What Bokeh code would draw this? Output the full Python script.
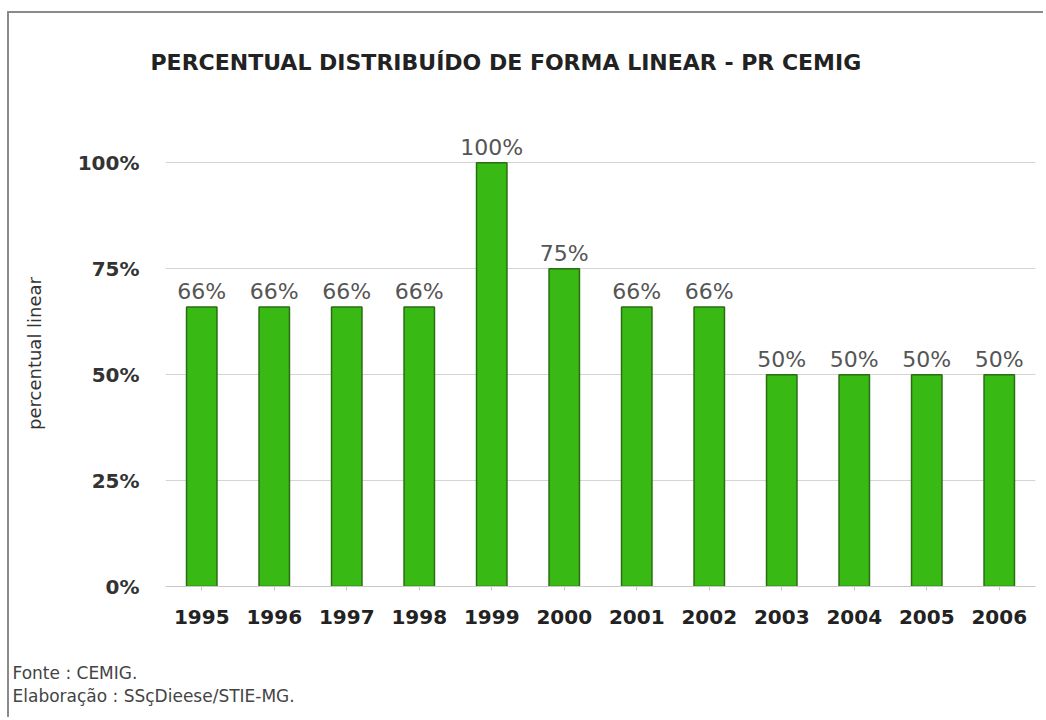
from bokeh.plotting import figure
from bokeh.models import ColumnDataSource, LabelSet, FixedTicker, PrintfTickFormatter, Title, Range1d, FactorRange
from bokeh.core.properties import value
from bokeh.embed import file_html
from bokeh.resources import INLINE

years = ["1995", "1996", "1997", "1998", "1999", "2000", "2001", "2002", "2003", "2004", "2005", "2006"]
values = [66, 66, 66, 66, 100, 75, 66, 66, 50, 50, 50, 50]
labels = [f"{v}%" for v in values]
y_ticks = [0, 25, 50, 75, 100]
title_text = "PERCENTUAL DISTRIBUÍDO DE FORMA LINEAR - PR CEMIG"
footnotes = ["Fonte : CEMIG.", "Elaboração : SSçDieese/STIE-MG."]

FONT = "DejaVu Sans"

src = ColumnDataSource(dict(year=years, value=values, label=labels))

p = figure(width=1036, height=706, x_range=FactorRange(*years), y_range=Range1d(0, 110),
           output_backend="svg", toolbar_location=None,
           min_border_left=156, min_border_right=10, min_border_top=107, min_border_bottom=133)
p.styles = {"border-left": "2px solid #8a8a8a", "border-top": "2px solid #8a8a8a",
            "margin-top": "11px", "margin-left": "7px"}

# trailing blank line lifts the title line within its panel
p.title.text = title_text + "\n "
p.title.text_font = FONT
p.title.text_font_style = "bold"
p.title.text_font_size = "22px"
p.title.text_color = "#222222"
p.title.align = "left"
p.title.offset = -15
p.title.standoff = 32
p.title.text_line_height = 1.2

p.vbar(x="year", top="value", width=0.42, source=src, fill_color="#38b914", line_color="#2b6e12", line_width=1.5)

ls = LabelSet(x="year", y="value", text="label", source=src, y_offset=3,
              text_align="center", text_baseline="bottom",
              text_font=value(FONT), text_font_size="22px", text_color="#555555")
p.add_layout(ls)

p.yaxis.ticker = FixedTicker(ticks=y_ticks)
p.yaxis.formatter = PrintfTickFormatter(format="%d%%")
p.yaxis.axis_line_color = None
p.yaxis.major_tick_line_color = None
p.yaxis.minor_tick_line_color = None
p.yaxis.major_label_text_font = FONT
p.yaxis.major_label_text_font_style = "bold"
p.yaxis.major_label_text_font_size = "20px"
p.yaxis.major_label_text_color = "#333333"
p.yaxis.major_label_standoff = 20
p.yaxis.axis_label = "percentual linear"
p.yaxis.axis_label_text_font = FONT
p.yaxis.axis_label_text_font_style = "normal"
p.yaxis.axis_label_text_font_size = "18px"
p.yaxis.axis_label_text_color = "#333333"
p.yaxis.axis_label_standoff = 30

p.xaxis.axis_line_color = "#c8c8c8"
p.xaxis.major_tick_line_color = "#c8c8c8"
p.xaxis.major_tick_in = 0
p.xaxis.major_tick_out = 4
p.xaxis.major_label_text_font = FONT
p.xaxis.major_label_text_font_style = "bold"
p.xaxis.major_label_text_font_size = "20px"
p.xaxis.major_label_text_color = "#222222"
p.xaxis.major_label_standoff = 19

p.xgrid.grid_line_color = None
p.ygrid.grid_line_color = "#d4d4d4"
p.outline_line_color = None

# leading blank line pushes the footnote lines down within their panel
t = Title(text=" \n" + "\n".join(footnotes), align="left", offset=-153,
          text_font=FONT, text_font_size="17px",
          text_font_style="normal", text_color="#444444", standoff=24, text_line_height=1.16)
p.add_layout(t, "below")

open("out.html", "w").write(file_html(p, INLINE))
